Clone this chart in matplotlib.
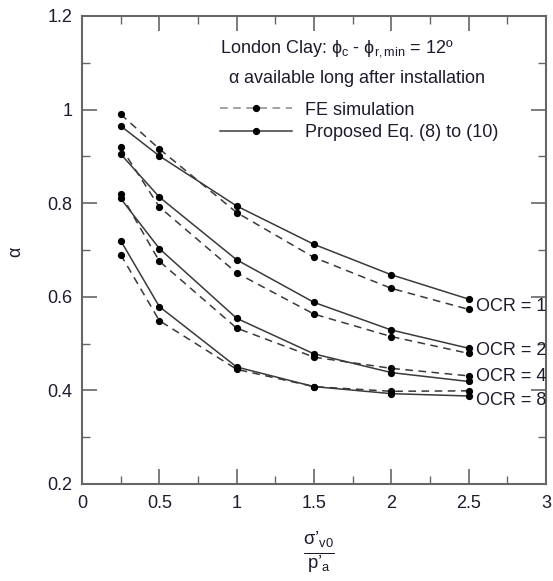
import matplotlib
matplotlib.use("Agg")
import matplotlib.pyplot as plt
from matplotlib.lines import Line2D
from matplotlib.ticker import MultipleLocator, FuncFormatter

plt.rcParams["font.family"] = ["Liberation Sans", "DejaVu Sans"]
plt.rcParams["mathtext.fontset"] = "custom"
plt.rcParams["mathtext.rm"] = "Liberation Sans"
plt.rcParams["mathtext.it"] = "Liberation Sans"
plt.rcParams["mathtext.bf"] = "Liberation Sans:bold"
plt.rcParams["mathtext.sf"] = "Liberation Sans"

# normalised vertical effective stress
stress = [0.25, 0.5, 1.0, 1.5, 2.0, 2.5]

# FE simulation results, per OCR
fe_ocr1 = [0.990, 0.916, 0.780, 0.684, 0.618, 0.573]
fe_ocr2 = [0.920, 0.792, 0.651, 0.563, 0.515, 0.479]
fe_ocr4 = [0.820, 0.676, 0.533, 0.471, 0.447, 0.431]
fe_ocr8 = [0.690, 0.549, 0.445, 0.408, 0.398, 0.399]

# proposed equations, per OCR
eq_ocr1 = [0.965, 0.901, 0.794, 0.712, 0.647, 0.595]
eq_ocr2 = [0.905, 0.813, 0.679, 0.588, 0.529, 0.490]
eq_ocr4 = [0.810, 0.703, 0.554, 0.478, 0.438, 0.419]
eq_ocr8 = [0.720, 0.579, 0.450, 0.408, 0.393, 0.388]

ocr_labels = ["OCR = 1", "OCR = 2", "OCR = 4", "OCR = 8"]
ocr_label_y = [0.579, 0.486, 0.429, 0.379]

fe_series = [fe_ocr1, fe_ocr2, fe_ocr4, fe_ocr8]
eq_series = [eq_ocr1, eq_ocr2, eq_ocr4, eq_ocr8]

FS = 13
TEXT = "#1c1c2c"
LINE = "#3a3a3a"
SPINE = "#666666"

fig = plt.figure(figsize=(5.53, 5.81), dpi=100)
ax = fig.add_axes([0.1483, 0.1670, 0.839, 0.8055])

dash = (0, (5, 3.6))
for fe, eq in zip(fe_series, eq_series):
    ax.plot(stress, fe, color=LINE, lw=1.1, ls=dash, marker="o", ms=4.2,
            mfc="black", mec="black")
    ax.plot(stress, eq, color=LINE, lw=1.1, ls="-", marker="o", ms=4.2,
            mfc="black", mec="black")

for lab, y in zip(ocr_labels, ocr_label_y):
    ax.text(2.547, y, lab, fontsize=FS, color=TEXT, ha="left", va="center")

ax.set_xlim(0, 3)
ax.set_ylim(0.2, 1.2)
ax.xaxis.set_major_locator(MultipleLocator(0.5))
ax.xaxis.set_minor_locator(MultipleLocator(0.25))
ax.yaxis.set_major_locator(MultipleLocator(0.2))
ax.yaxis.set_minor_locator(MultipleLocator(0.1))
fmt = FuncFormatter(lambda v, p: f"{v:g}")
ax.xaxis.set_major_formatter(fmt)
ax.yaxis.set_major_formatter(fmt)

ax.tick_params(which="both", direction="in", top=True, right=True,
               color=SPINE, labelsize=FS, labelcolor=TEXT)
ax.tick_params(which="major", length=10.8, width=1.2)
ax.tick_params(which="minor", length=6, width=1.0)
ax.tick_params(axis="x", which="major", pad=8)
ax.tick_params(axis="y", which="major", pad=7)
for s in ax.spines.values():
    s.set_color(SPINE)
    s.set_linewidth(1.5)

ax.set_ylabel(r"$\alpha$", fontsize=FS, color=TEXT)
ax.yaxis.set_label_coords(-0.122, 0.496)
ax.set_xlabel(r"$\frac{\sigma{’}_{v0}}{p{’}_{a}}$", fontsize=19, color=TEXT)
ax.xaxis.set_label_coords(0.51, -0.100)

ax.text(0.297, 0.930, r"London Clay: $\phi_{c}$ - $\phi_{r,min}$ = 12º",
        transform=ax.transAxes, fontsize=FS, color=TEXT, ha="left", va="center")
ax.text(0.315, 0.866, r"$\alpha$ available long after installation",
        transform=ax.transAxes, fontsize=FS, color=TEXT, ha="left", va="center")

handles = [
    Line2D([], [], color="#888888", lw=1.1, ls=dash, marker="o", ms=4.2,
           mfc="black", mec="black"),
    Line2D([], [], color=LINE, lw=1.1, ls="-", marker="o", ms=4.2,
           mfc="black", mec="black"),
]
leg = ax.legend(handles, ["FE simulation", "Proposed Eq. (8) to (10)"],
                loc="upper left", bbox_to_anchor=(0.297, 0.817),
                frameon=False, fontsize=FS, handlelength=4.0,
                handletextpad=0.7, labelspacing=0.3, borderpad=0,
                borderaxespad=0)
for t in leg.get_texts():
    t.set_color(TEXT)

fig.savefig("out.png", dpi=100)
